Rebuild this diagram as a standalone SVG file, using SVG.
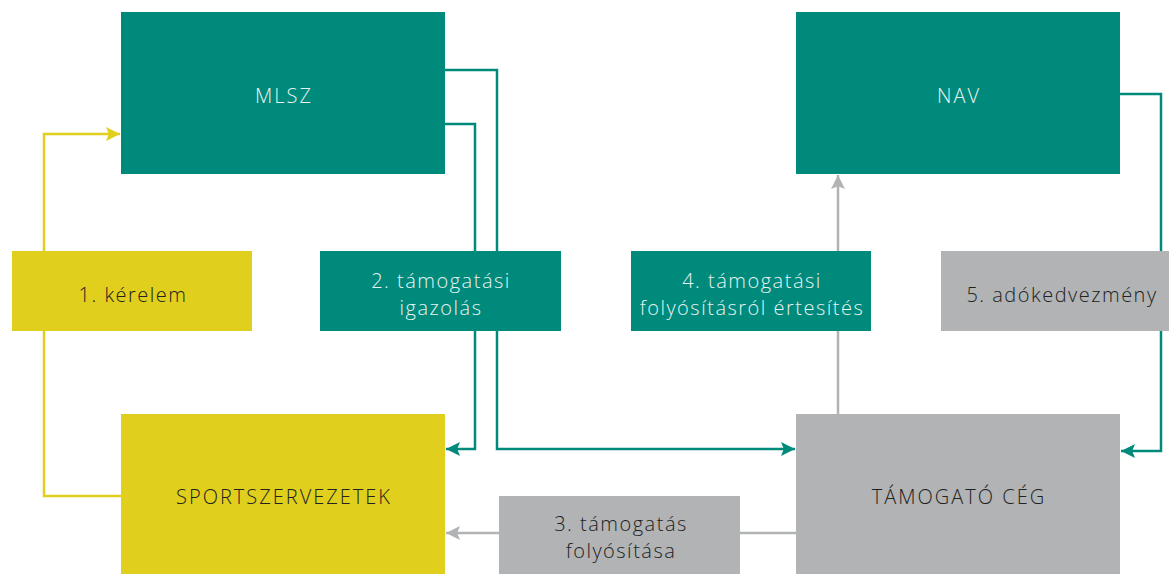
<svg xmlns="http://www.w3.org/2000/svg" width="1169" height="574" viewBox="0 0 1169 574">
<defs>
<style>
.teal{fill:#008A7C}
.yel{fill:#E0CF1C}
.gray{fill:#B1B3B5}
text{font-family:"Open Sans","Liberation Sans",sans-serif;font-weight:300;font-size:20px;letter-spacing:1.5px;text-anchor:middle}
.cap{letter-spacing:2px}
.lt{fill:#E6F3F1}
.dk{fill:#222222}
.ct{fill:none;stroke:#008A7C;stroke-width:2.5}
.cy{fill:none;stroke:#E0CF1C;stroke-width:2.5}
.cg{fill:none;stroke:#B1B3B5;stroke-width:2.5}
</style>
<marker id="at" viewBox="0 0 10 10" refX="10" refY="5" markerWidth="18" markerHeight="14" markerUnits="userSpaceOnUse" orient="auto"><path d="M0,0 L10,5 L0,10 L2,5 z" fill="#008A7C"/></marker>
<marker id="ay" viewBox="0 0 10 10" refX="10" refY="5" markerWidth="18" markerHeight="14" markerUnits="userSpaceOnUse" orient="auto"><path d="M0,0 L10,5 L0,10 L2,5 z" fill="#E0CF1C"/></marker>
<marker id="ag" viewBox="0 0 10 10" refX="10" refY="5" markerWidth="18" markerHeight="14" markerUnits="userSpaceOnUse" orient="auto"><path d="M0,0 L10,5 L0,10 L2,5 z" fill="#B1B3B5"/></marker>
</defs>
<g id="connectors">
<path class="cy" d="M44,251 V134 H120" marker-end="url(#ay)"/>
<path class="cy" d="M44,331 V496 H121"/>
<path class="ct" d="M445,70 H497 V449 H795" marker-end="url(#at)"/>
<path class="ct" d="M445,124 H475 V449 H446" marker-end="url(#at)"/>
<path class="ct" d="M1120,94 H1161 V451 H1121" marker-end="url(#at)"/>
<path class="cg" d="M796,533 H446" marker-end="url(#ag)"/>
<path class="cg" d="M838,414 V175" marker-end="url(#ag)"/>
</g>
<g id="mlsz"><rect class="teal" x="121" y="12" width="324" height="162"/><text class="lt cap" x="284" y="103">MLSZ</text></g>
<g id="nav"><rect class="teal" x="796" y="12" width="324" height="162"/><text class="lt cap" x="959" y="103">NAV</text></g>
<g id="sport"><rect class="yel" x="121" y="414" width="324" height="160"/><text class="dk cap" x="284" y="504">SPORTSZERVEZETEK</text></g>
<g id="ceg"><rect class="gray" x="796" y="414" width="324" height="160"/><text class="dk cap" x="959" y="504">TÁMOGATÓ CÉG</text></g>
<g id="step1"><rect class="yel" x="12" y="251" width="240" height="80"/><text class="dk" x="133" y="302">1. kérelem</text></g>
<g id="step2"><rect class="teal" x="320" y="251" width="241" height="80"/><text class="lt" x="441" y="288">2. támogatási</text><text class="lt" x="441" y="315">igazolás</text></g>
<g id="step4"><rect class="teal" x="631" y="251" width="240" height="80"/><text class="lt" x="752" y="288">4. támogatási</text><text class="lt" x="752" y="315">folyósításról értesítés</text></g>
<g id="step5"><rect class="gray" x="941" y="251" width="228" height="80"/><text class="dk" x="1062" y="302">5. adókedvezmény</text></g>
<g id="step3"><rect class="gray" x="499" y="496" width="241" height="78"/><text class="dk" x="621" y="531">3. támogatás</text><text class="dk" x="621" y="558">folyósítása</text></g>
</svg>
